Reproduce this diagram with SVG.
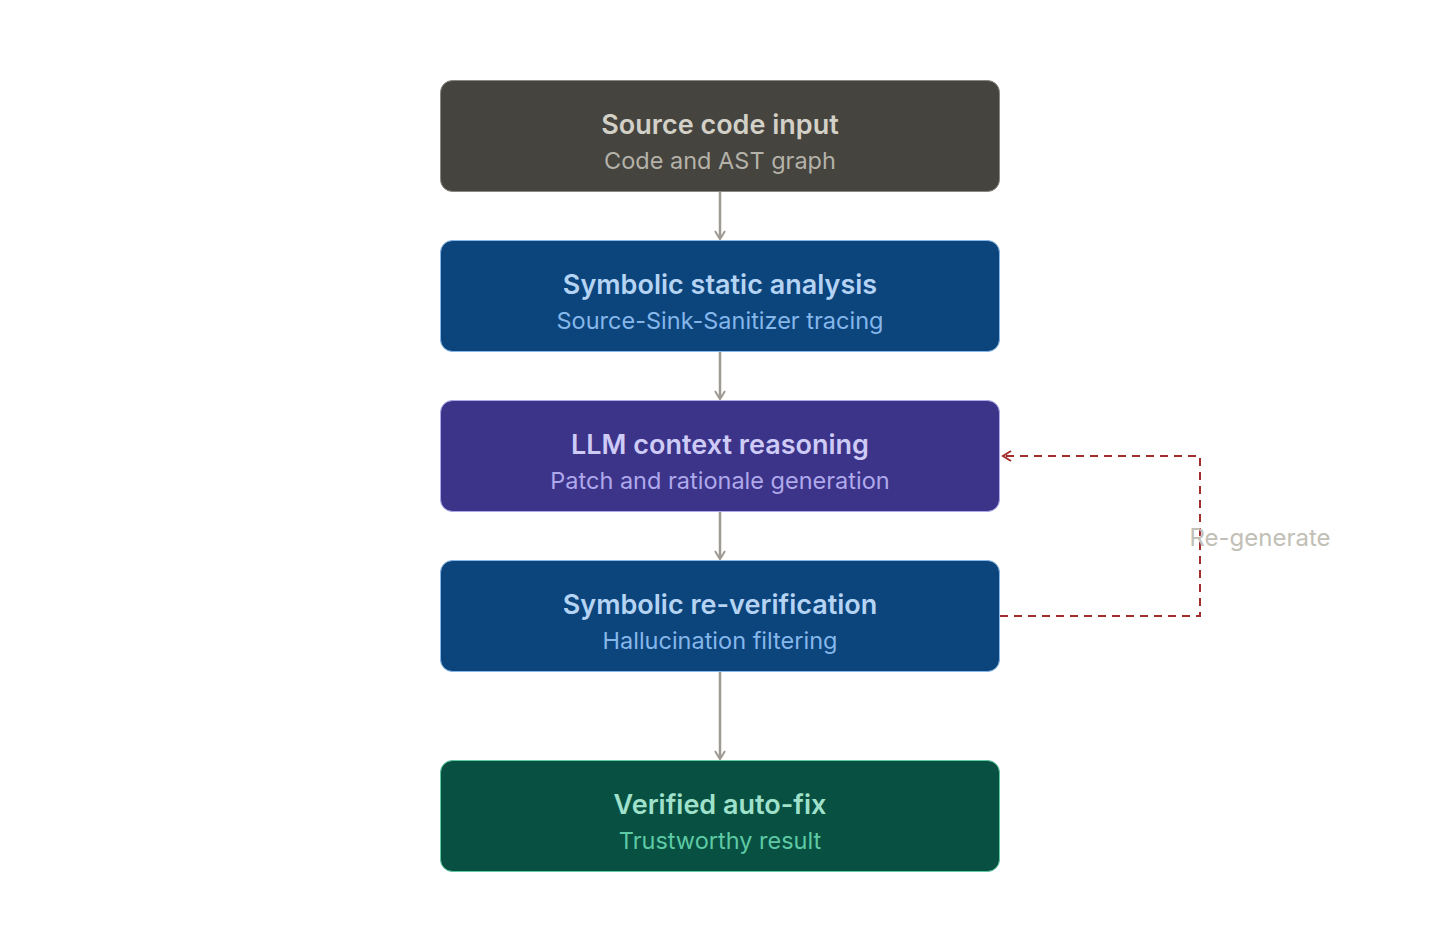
<svg xmlns="http://www.w3.org/2000/svg" width="1440" height="940" viewBox="0 0 1440 940">
<style>
.box{stroke-width:1}
.t{font-family:Inter,"Noto Sans",sans-serif;font-size:27px;font-weight:600;text-anchor:middle}
.s{font-family:Inter,"Noto Sans",sans-serif;font-size:23.5px;font-weight:400;text-anchor:middle}
.edge{fill:none;stroke:#9c9a92;stroke-width:2.5}
.loop{fill:none;stroke:#a32d2d;stroke-width:2;stroke-dasharray:8 6}
.lbl{font-family:Inter,"Noto Sans",sans-serif;font-size:24px;fill:#c2c0b6;text-anchor:middle}
</style>
<defs>
<marker id="ag" viewBox="0 0 12 12" refX="10" refY="6" markerWidth="12" markerHeight="12" markerUnits="userSpaceOnUse" orient="auto"><path d="M2 1 L10 6 L2 11" fill="none" stroke="#9c9a92" stroke-width="2"/></marker>
<marker id="ar" viewBox="0 0 12 12" refX="10" refY="6" markerWidth="12" markerHeight="12" markerUnits="userSpaceOnUse" orient="auto"><path d="M2 1 L10 6 L2 11" fill="none" stroke="#a32d2d" stroke-width="2"/></marker>
</defs>
<rect width="1440" height="940" fill="#ffffff"/>
<g id="connectors">
<line class="edge" x1="720" y1="192" x2="720" y2="239" marker-end="url(#ag)"/>
<line class="edge" x1="720" y1="352" x2="720" y2="399" marker-end="url(#ag)"/>
<line class="edge" x1="720" y1="512" x2="720" y2="559" marker-end="url(#ag)"/>
<line class="edge" x1="720" y1="672" x2="720" y2="759" marker-end="url(#ag)"/>
<path class="loop" d="M1000 616 H1200 V456 H1003" marker-end="url(#ar)"/>
<text class="lbl" x="1260" y="546">Re-generate</text>
</g>
<g id="n1">
<rect class="box" x="440.5" y="80.5" width="559" height="111" rx="12" fill="#45443f" stroke="#888780"/>
<text class="t" x="720" y="134" fill="#d3d1c7">Source code input</text>
<text class="s" x="720" y="169" fill="#b4b2a9">Code and AST graph</text>
</g>
<g id="n2">
<rect class="box" x="440.5" y="240.5" width="559" height="111" rx="12" fill="#0c447c" stroke="#85b7eb"/>
<text class="t" x="720" y="294" fill="#b5d4f4">Symbolic static analysis</text>
<text class="s" x="720" y="329" fill="#85b7eb">Source-Sink-Sanitizer tracing</text>
</g>
<g id="n3">
<rect class="box" x="440.5" y="400.5" width="559" height="111" rx="12" fill="#3c3489" stroke="#afa9ec"/>
<text class="t" x="720" y="454" fill="#cecbf6">LLM context reasoning</text>
<text class="s" x="720" y="489" fill="#afa9ec">Patch and rationale generation</text>
</g>
<g id="n4">
<rect class="box" x="440.5" y="560.5" width="559" height="111" rx="12" fill="#0c447c" stroke="#85b7eb"/>
<text class="t" x="720" y="614" fill="#b5d4f4">Symbolic re-verification</text>
<text class="s" x="720" y="649" fill="#85b7eb">Hallucination filtering</text>
</g>
<g id="n5">
<rect class="box" x="440.5" y="760.5" width="559" height="111" rx="12" fill="#085041" stroke="#5dcaa5"/>
<text class="t" x="720" y="814" fill="#9fe1cb">Verified auto-fix</text>
<text class="s" x="720" y="849" fill="#5dcaa5">Trustworthy result</text>
</g>
</svg>
